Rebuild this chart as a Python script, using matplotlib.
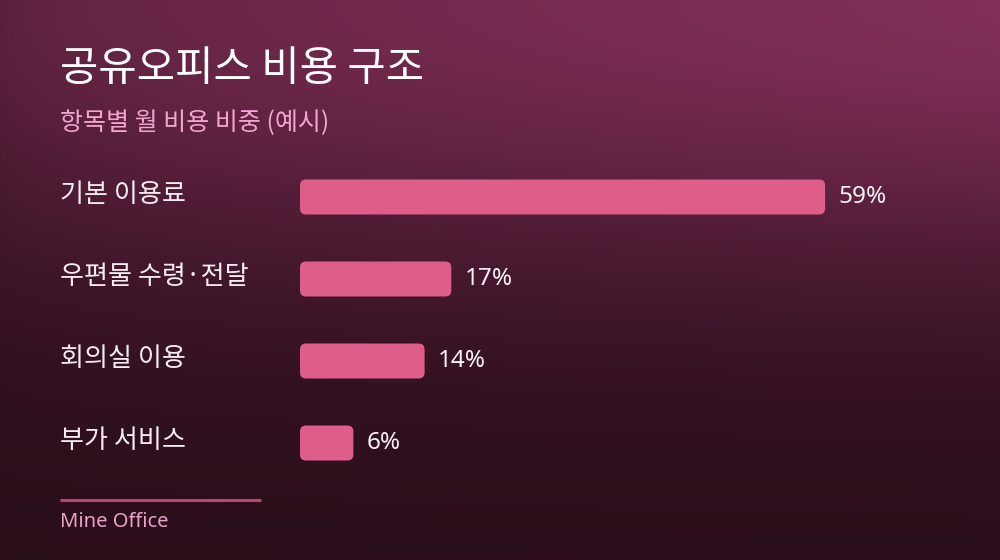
import numpy as np
import matplotlib
matplotlib.use('Agg')
import matplotlib.pyplot as plt
from matplotlib import transforms
from matplotlib.patches import FancyBboxPatch
from matplotlib.colors import to_rgb

KR = ['Noto Sans CJK KR', 'DejaVu Sans']
LATIN = ['Noto Sans', 'DejaVu Sans']

title = '공유오피스 비용 구조'
subtitle = '항목별 월 비용 비중 (예시)'
source = 'Mine Office'
categories = ['기본 이용료', '우편물 수령·전달', '회의실 이용', '부가 서비스']
shares = [59, 17, 14, 6]

W, H = 1000, 560
fig = plt.figure(figsize=(W / 100, H / 100), dpi=100)

# background: dark wine gradient, brighter towards the top right
bg = fig.add_axes([0, 0, 1, 1])
yy, xx = np.mgrid[0:H, 0:W]
t = np.exp(-(yy / 277.0) ** 2) * (0.5 + 0.45 * np.sqrt(xx / W))
dark = np.array(to_rgb('#2a0e1a'))
light = np.array(to_rgb('#86315b'))
img = dark + (light - dark) * t[..., None]
bg.imshow(img, aspect='auto', extent=(0, 1, 0, 1), origin='upper')
bg.set_axis_off()

# bar axes: x from 300px, 8.9px per percent
px_per_unit = 8.9
ax_left, ax_right = 300, 900
slot = 82
top = 197 - slot / 2
ax = fig.add_axes([ax_left / W, 1 - (top + 4 * slot) / H,
                   (ax_right - ax_left) / W, 4 * slot / H])
ax.set_xlim(0, (ax_right - ax_left) / px_per_unit)
ax.set_ylim(len(categories) - 0.5, -0.5)
ax.set_axis_off()
ax.patch.set_alpha(0)

bar_h = 35 / slot
radius = 6 / px_per_unit
aspect = px_per_unit / slot
label_tr = transforms.blended_transform_factory(fig.transFigure, ax.transData)
for i, (cat, v) in enumerate(zip(categories, shares)):
    ax.add_patch(FancyBboxPatch((0, i - bar_h / 2), v, bar_h,
                                boxstyle=f'round,pad=0,rounding_size={radius}',
                                mutation_aspect=aspect,
                                facecolor='#de5d89', edgecolor='none'))
    ax.text(v + 13 / px_per_unit, i, f'{v}%', va='center', ha='left',
            fontsize=17.5, color='#fbf1f6', family=LATIN)
    ax.text(0.06, i - 0.03, cat, transform=label_tr, va='center', ha='left',
            fontsize=18.8, color='#f7ecf2', family=KR)

fig.text(0.06, 1 - 70 / H, title, va='center', ha='left', fontsize=30,
         color='white', family=KR, fontweight='medium')
fig.text(0.06, 1 - 123 / H, subtitle, va='center', ha='left', fontsize=18,
         color='#f2a6cf', family=KR)

# footer rule and source
bg.plot([60 / W, 261 / W], [1 - 500 / H, 1 - 500 / H], color='#b4496f',
        lw=2.2, solid_capstyle='butt')
bg.set_xlim(0, 1)
bg.set_ylim(0, 1)
fig.text(0.06, 1 - 522 / H, source, va='center', ha='left', fontsize=14.5,
         color='#eaa2c9', family=LATIN)

fig.savefig('out.png', dpi=100)
